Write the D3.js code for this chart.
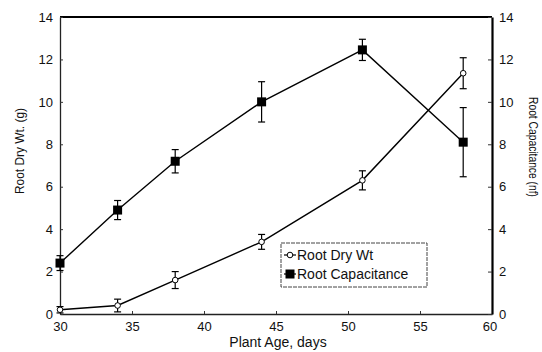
<!DOCTYPE html>
<html>
<head>
<meta charset="utf-8">
<script src="https://cdn.jsdelivr.net/npm/d3@7"></script>
<style>
  body { margin: 0; background: #fff; }
  text { font-family: "Liberation Sans", Arial, sans-serif; fill: #111; }
</style>
</head>
<body>
<svg id="chart" width="542" height="352"></svg>
<script>
const days = [30, 34, 38, 44, 51, 58];
const dryWt = [0.2, 0.4, 1.6, 3.4, 6.3, 11.35];
const dryErr = [0.15, 0.3, 0.4, 0.35, 0.45, 0.73];
const capacitance = [2.4, 4.9, 7.2, 10.0, 12.45, 8.1];
const capErr = [0.35, 0.45, 0.55, 0.95, 0.5, 1.63];
const xTicks = [30, 35, 40, 45, 50, 55, 60];
const yTicks = [0, 2, 4, 6, 8, 10, 12, 14];

const svg = d3.select('#chart');
const plotL = 60, plotR = 492, plotT = 17, plotB = 314;

const x = d3.scaleLinear().domain([30, 60]).range([plotL, plotR]);
const yL = d3.scaleLinear().domain([0, 14]).range([plotB, plotT]);
const yR = d3.scaleLinear().domain([0, 14]).range([plotB, plotT]);

// frame: top and right heavier like the original
svg.append('line').attr('x1', plotL).attr('x2', plotR).attr('y1', plotT).attr('y2', plotT)
  .attr('stroke', '#000').attr('stroke-width', 2);

const xAxis = svg.append('g').attr('transform', `translate(0,${plotB})`)
  .call(d3.axisBottom(x).tickValues(xTicks).tickSizeInner(-3).tickSizeOuter(0).tickPadding(8));
const lAxis = svg.append('g').attr('transform', `translate(${plotL},0)`)
  .call(d3.axisLeft(yL).tickValues(yTicks).tickSizeInner(-3).tickSizeOuter(0).tickPadding(7));
const rAxis = svg.append('g').attr('transform', `translate(${plotR},0)`)
  .call(d3.axisRight(yR).tickValues(yTicks).tickSizeInner(-4).tickSizeOuter(0).tickPadding(7));

[xAxis, lAxis, rAxis].forEach(g => {
  g.selectAll('text').style('font-family', '"Liberation Sans", Arial, sans-serif')
    .style('font-size', '13px').attr('fill', '#111');
  g.selectAll('line').attr('stroke', '#333');
});
xAxis.select('.domain').attr('stroke', '#222').attr('stroke-width', 1.3);
lAxis.select('.domain').attr('stroke', '#222').attr('stroke-width', 1.3);
rAxis.select('.domain').attr('stroke', '#000').attr('stroke-width', 2.2);
xAxis.selectAll('.tick text').filter(d => d === 60).attr('dx', '-0.2em');

// axis titles (the scan squeezes the vertical ones a little)
svg.append('text').attr('transform', 'translate(24,151) rotate(-90)')
  .attr('text-anchor', 'middle').style('font-size', '12px')
  .attr('textLength', 86).attr('lengthAdjust', 'spacingAndGlyphs').text('Root Dry Wt. (g)');
svg.append('text').attr('transform', 'translate(529,147) rotate(90)')
  .attr('text-anchor', 'middle').style('font-size', '12px')
  .attr('textLength', 100).attr('lengthAdjust', 'spacingAndGlyphs').text('Root Capacitance (nf)');
svg.append('text').attr('x', 278).attr('y', 347)
  .attr('text-anchor', 'middle').style('font-size', '14px').text('Plant Age, days');

const dryData = days.map((d, i) => ({ day: d, v: dryWt[i], e: dryErr[i] }));
const capData = days.map((d, i) => ({ day: d, v: capacitance[i], e: capErr[i] }));

function drawSeries(data, y, kind) {
  const g = svg.append('g');
  g.append('path').datum(data)
    .attr('fill', 'none').attr('stroke', '#000').attr('stroke-width', 1.4)
    .attr('d', d3.line().x(d => x(d.day)).y(d => y(d.v)));

  const err = g.selectAll('.err').data(data).enter().append('g').attr('class', 'err')
    .attr('stroke', '#000').attr('stroke-width', 1.2);
  err.append('line').attr('x1', d => x(d.day)).attr('x2', d => x(d.day))
    .attr('y1', d => y(d.v - d.e)).attr('y2', d => y(d.v + d.e));
  err.append('line').attr('x1', d => x(d.day) - 3.5).attr('x2', d => x(d.day) + 3.5)
    .attr('y1', d => y(d.v + d.e)).attr('y2', d => y(d.v + d.e));
  err.append('line').attr('x1', d => x(d.day) - 3.5).attr('x2', d => x(d.day) + 3.5)
    .attr('y1', d => y(d.v - d.e)).attr('y2', d => y(d.v - d.e));

  if (kind === 'square') {
    g.selectAll('.pt').data(data).enter().append('rect')
      .attr('x', d => x(d.day) - 4.5).attr('y', d => y(d.v) - 4.5)
      .attr('width', 9).attr('height', 9).attr('fill', '#000');
  } else {
    g.selectAll('.pt').data(data).enter().append('circle')
      .attr('cx', d => x(d.day)).attr('cy', d => y(d.v)).attr('r', 2.8)
      .attr('fill', '#fff').attr('stroke', '#000').attr('stroke-width', 1);
  }
}

drawSeries(dryData, yL, 'circle');
drawSeries(capData, yR, 'square');

// legend
const lg = svg.append('g').attr('transform', 'translate(281,243)');
lg.append('rect').attr('width', 146).attr('height', 44)
  .attr('fill', '#fff').attr('stroke', '#444').attr('stroke-width', 1).attr('stroke-dasharray', '4,1');
const items = [{ label: 'Root Dry Wt', kind: 'circle' }, { label: 'Root Capacitance', kind: 'square' }];
const row = lg.selectAll('.item').data(items).enter().append('g')
  .attr('transform', (d, i) => `translate(0,${12 + i * 19})`);
row.append('line').attr('x1', 3).attr('x2', 15).attr('stroke', '#000').attr('stroke-width', 1.2);
row.filter(d => d.kind === 'circle').append('circle').attr('cx', 9).attr('r', 2.8)
  .attr('fill', '#fff').attr('stroke', '#000');
row.filter(d => d.kind === 'square').append('rect').attr('x', 4.5).attr('y', -4.5)
  .attr('width', 9).attr('height', 9).attr('fill', '#000');
row.append('text').attr('x', 16).attr('dy', '0.35em').style('font-size', '14px').text(d => d.label);
</script>
</body>
</html>
